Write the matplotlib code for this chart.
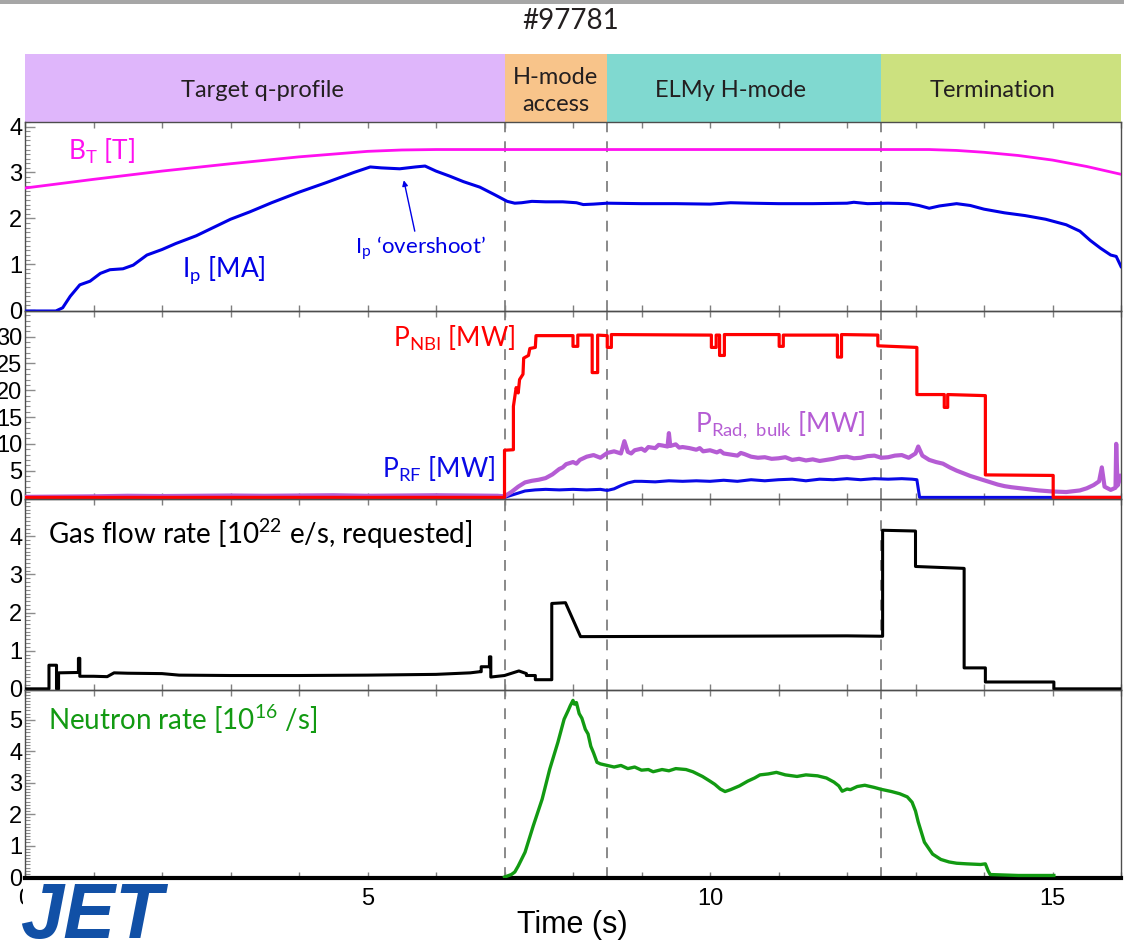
import matplotlib
matplotlib.use("Agg")
import matplotlib.pyplot as plt
from matplotlib.patches import Rectangle
from matplotlib.ticker import MultipleLocator, NullFormatter

# ---------------- data (JET pulse #97781) ----------------
shot_label = "#97781"

phase_names = ["Target q-profile", "H-mode\naccess", "ELMy H-mode", "Termination"]
phase_edges = [0.0, 7.0, 8.5, 12.5, 16.0]
phase_text_t = [3.46, 7.75, 10.3, 14.12]
phase_colors = ["#DFB6FB", "#F8C48A", "#80D9D0", "#CCE17F"]

t_bt = [0, 1, 2, 3, 4, 5, 5.5, 6, 8, 10, 12, 13.2, 13.6, 14.0, 14.5, 15.0, 15.5, 16.0]
bt = [2.66, 2.85, 3.03, 3.19, 3.34, 3.46, 3.49, 3.50, 3.50, 3.50, 3.50, 3.50, 3.48,
      3.44, 3.37, 3.27, 3.13, 2.96]

t_ip = [0, 0.45, 0.55, 0.66, 0.8, 0.95, 1.1, 1.24, 1.43, 1.58, 1.78, 2.0, 2.2, 2.5,
        2.75, 3.0, 3.28, 3.6, 4.0, 4.4, 4.8, 5.04, 5.2, 5.47, 5.7, 5.84, 6.0, 6.2,
        6.4, 6.64, 6.85, 7.04, 7.15, 7.25, 7.4, 7.6, 7.85, 8.05, 8.15, 8.3, 8.5,
        9.0, 9.5, 10.0, 10.3, 10.6, 11.0, 11.5, 12.0, 12.1, 12.3, 12.6, 12.9, 13.05,
        13.2, 13.35, 13.6, 13.8, 14.0, 14.3, 14.6, 14.9, 15.2, 15.4, 15.55, 15.7,
        15.85, 15.93, 16.0]
ip = [-0.02, -0.02, 0.05, 0.3, 0.55, 0.63, 0.8, 0.88, 0.9, 0.98, 1.2, 1.32, 1.45,
      1.62, 1.8, 1.98, 2.14, 2.34, 2.57, 2.78, 3.0, 3.12, 3.1, 3.08, 3.12, 3.14,
      3.03, 2.92, 2.8, 2.68, 2.52, 2.37, 2.33, 2.34, 2.37, 2.36, 2.36, 2.34, 2.30,
      2.31, 2.33, 2.32, 2.32, 2.31, 2.34, 2.33, 2.32, 2.32, 2.33, 2.35, 2.32, 2.33,
      2.32, 2.28, 2.22, 2.27, 2.32, 2.28, 2.2, 2.12, 2.06, 1.98, 1.86, 1.72, 1.52,
      1.35, 1.2, 1.17, 0.95]

t_nbi = [0, 7.0, 7.0, 7.13, 7.13, 7.17, 7.2, 7.22, 7.27, 7.28, 7.35, 7.37, 7.45,
         7.46, 8.0, 8.0, 8.07, 8.07, 8.28, 8.28, 8.36, 8.36, 8.5, 8.5, 8.56, 8.56,
         10.02, 10.02, 10.09, 10.09, 10.14, 10.14, 10.21, 10.21, 11.01, 11.01, 11.07,
         11.07, 11.86, 11.86, 11.92, 11.92, 12.45, 12.45, 13.02, 13.02, 13.42, 13.42,
         13.47, 13.47, 14.02, 14.02, 15.01, 15.01, 16.0]
p_nbi = [0, 0, 8.8, 8.9, 17.0, 20.5, 19.5, 22.0, 23.0, 26.0, 26.5, 27.8, 28.0,
         30.2, 30.2, 28.2, 28.2, 30.3, 30.3, 23.3, 23.3, 30.3, 30.2, 28.0, 28.0, 30.4,
         30.3, 28.0, 28.0, 30.3, 30.3, 26.5, 26.5, 30.4, 30.4, 28.2, 28.2, 30.3, 30.3,
         26.2, 26.2, 30.4, 30.3, 28.3, 28.0, 19.2, 19.2, 16.8, 16.8, 19.2, 19.0, 4.2,
         4.1, 0, 0]

t_rf = [0, 7.0, 7.1, 7.2, 7.3, 7.45, 7.6, 7.8, 8.0, 8.2, 8.4, 8.5, 8.6, 8.7, 8.8,
        8.9, 9.0, 9.2, 9.4, 9.6, 9.8, 10.0, 10.2, 10.4, 10.6, 10.8, 11.0, 11.2, 11.4,
        11.6, 11.8, 12.0, 12.2, 12.4, 12.6, 12.8, 12.95, 13.02, 13.06, 16.0]
p_rf = [0, 0, 0.4, 0.8, 1.2, 1.4, 1.5, 1.4, 1.5, 1.4, 1.5, 1.3, 1.6, 2.2, 2.7, 3.0,
        3.0, 2.9, 3.1, 3.0, 3.1, 3.0, 3.2, 3.0, 3.3, 3.1, 3.3, 3.4, 3.1, 3.4, 3.3,
        3.5, 3.3, 3.5, 3.4, 3.5, 3.4, 3.3, 0, 0]

t_rad = [0, 1.0, 1.5, 2.0, 2.5, 3.0, 3.5, 4.0, 4.5, 5.0, 5.5, 6.0, 6.5, 6.9, 7.0,
         7.1, 7.2, 7.3, 7.4, 7.5, 7.6, 7.7, 7.8, 7.85, 7.9, 8.0, 8.05, 8.1, 8.2, 8.3,
         8.4, 8.5, 8.6, 8.7, 8.75, 8.8, 8.85, 8.9, 9.0, 9.05, 9.1, 9.2, 9.25, 9.3,
         9.38, 9.4, 9.42, 9.5, 9.55, 9.6, 9.7, 9.8, 9.85, 9.9, 10.0, 10.1, 10.15, 10.2,
         10.3, 10.4, 10.45, 10.5, 10.6, 10.7, 10.8, 10.9, 11.0, 11.1, 11.2, 11.3,
         11.4, 11.5, 11.6, 11.7, 11.8, 11.9, 12.0, 12.1, 12.2, 12.3, 12.4, 12.5,
         12.6, 12.7, 12.8, 12.9, 13.0, 13.04, 13.1, 13.2, 13.3, 13.4, 13.5, 13.6,
         13.7, 13.8, 13.9, 14.0, 14.1, 14.2, 14.3, 14.4, 14.6, 14.8, 15.0, 15.2,
         15.4, 15.5, 15.6, 15.68, 15.72, 15.76, 15.85, 15.92, 15.93, 15.95, 16.0]
p_rad = [0.1, 0.2, 0.3, 0.25, 0.3, 0.35, 0.3, 0.35, 0.4, 0.3, 0.35, 0.4, 0.35, 0.3,
         0.2, 1.0, 2.0, 2.8, 3.1, 3.3, 3.6, 4.3, 5.3, 5.6, 6.2, 6.6, 6.3, 7.0, 7.6,
         7.9, 7.4, 8.3, 8.6, 8.2, 10.5, 8.5, 8.2, 8.8, 9.1, 8.7, 9.4, 9.2, 9.8, 9.7,
         9.5, 12.0, 9.6, 9.9, 9.3, 9.4, 9.2, 8.9, 9.2, 8.6, 8.8, 8.4, 8.7, 8.2, 8.0,
         7.8, 8.3, 8.1, 7.6, 7.4, 7.5, 7.2, 7.3, 7.5, 7.0, 7.2, 6.9, 7.1, 6.8, 7.0,
         7.2, 7.5, 7.6, 7.3, 7.4, 7.7, 7.8, 7.4, 7.5, 7.8, 7.9, 7.4, 8.2, 9.5, 7.8,
         7.0, 6.6, 6.3, 5.6, 5.0, 4.5, 4.0, 3.6, 3.2, 2.8, 2.4, 2.1, 1.9, 1.6, 1.3,
         1.1, 1.0, 1.3, 1.7, 2.3, 3.0, 5.6, 2.0, 1.4, 1.8, 10.0, 2.2, 4.0]

t_gas = [0, 0.35, 0.35, 0.46, 0.46, 0.49, 0.49, 0.78, 0.78, 0.8, 0.8, 1.0, 1.2,
         1.3, 1.5, 2.0, 2.25, 3.0, 4.0, 5.0, 6.0, 6.5, 6.64, 6.66, 6.66, 6.78, 6.78,
         6.8, 6.8, 7.0, 7.21, 7.32, 7.32, 7.45, 7.45, 7.69, 7.69, 7.89, 8.11, 12.0,
         12.52, 12.52, 13.0, 13.0, 13.71, 13.71, 14.02, 14.02, 15.02, 15.02, 16.0]
gas = [0, 0, 0.62, 0.62, 0.0, 0.0, 0.42, 0.43, 0.8, 0.8, 0.33, 0.33, 0.32, 0.42,
       0.41, 0.40, 0.36, 0.35, 0.35, 0.36, 0.38, 0.42, 0.45, 0.45, 0.58, 0.58, 0.84,
       0.84, 0.31, 0.35, 0.47, 0.40, 0.35, 0.35, 0.24, 0.24, 2.24, 2.26, 1.37, 1.39,
       1.38, 4.16, 4.14, 3.21, 3.16, 0.55, 0.55, 0.18, 0.18, 0.0, 0.0]

t_neut = [7.0, 7.1, 7.15, 7.2, 7.3, 7.42, 7.55, 7.66, 7.78, 7.87, 7.93, 7.96, 8.0,
          8.02, 8.05, 8.09, 8.13, 8.18, 8.22, 8.26, 8.3, 8.35, 8.4, 8.5, 8.6, 8.7,
          8.8, 8.9, 9.0, 9.1, 9.17, 9.3, 9.4, 9.5, 9.65, 9.75, 9.89, 10.0, 10.07,
          10.15, 10.22, 10.3, 10.43, 10.55, 10.65, 10.73, 10.85, 10.97, 11.1, 11.27,
          11.4, 11.57, 11.7, 11.81, 11.88, 11.93, 12.0, 12.05, 12.15, 12.26, 12.4,
          12.5, 12.65, 12.77, 12.88, 12.95, 13.0, 13.04, 13.13, 13.25, 13.37, 13.49,
          13.6, 13.75, 13.85, 13.95, 14.02, 14.06, 14.09, 14.5, 15.02]
neut = [0.0, 0.08, 0.16, 0.35, 0.79, 1.63, 2.48, 3.43, 4.29, 5.02, 5.3, 5.45, 5.62,
        5.5, 5.55, 5.2, 5.05, 4.7, 4.55, 4.16, 3.95, 3.65, 3.6, 3.55, 3.5, 3.55,
        3.45, 3.5, 3.4, 3.42, 3.35, 3.42, 3.38, 3.45, 3.42, 3.35, 3.2, 3.05, 2.95,
        2.8, 2.72, 2.78, 2.9, 3.05, 3.15, 3.25, 3.28, 3.33, 3.25, 3.2, 3.25, 3.22,
        3.15, 3.02, 2.9, 2.73, 2.8, 2.78, 2.88, 2.92, 2.85, 2.79, 2.72, 2.65, 2.55,
        2.38, 2.1, 1.75, 1.11, 0.73, 0.56, 0.48, 0.44, 0.42, 0.41, 0.4, 0.42, 0.2,
        0.08, 0.05, 0.05]

phase_lines = [7.0, 8.5, 12.5]

# ---------------- figure layout ----------------
W, H, DPI = 1124, 947, 100
fig = plt.figure(figsize=(W / DPI, H / DPI), dpi=DPI)
fig.patch.set_facecolor("white")

TXT = ["Lato", "DejaVu Sans"]
NUM = ["Liberation Sans", "DejaVu Sans"]
plt.rcParams["mathtext.fontset"] = "custom"
plt.rcParams["mathtext.rm"] = "Lato"

X0, X1 = 25, 1121


def box(top, bottom):
    return [X0 / W, 1 - bottom / H, (X1 - X0) / W, (bottom - top) / H]


# thin grey strip along the top edge
fig.add_artist(Rectangle((0, 1 - 4 / H), 1, 4 / H, transform=fig.transFigure,
                         facecolor="#A6A6A6", edgecolor="none"))
fig.text(571 / W, 1 - 21 / H, shot_label, ha="center", va="center",
         fontsize=20, family=TXT, color="#231F20")

# phase bar
axp = fig.add_axes(box(54, 122))
axp.set_xlim(0, 16)
axp.set_ylim(0, 1)
axp.axis("off")
for i, name in enumerate(phase_names):
    axp.axvspan(phase_edges[i], phase_edges[i + 1], color=phase_colors[i], lw=0)
    axp.text(phase_text_t[i], 0.46, name, ha="center", va="center", fontsize=17,
             family=TXT, color="#231F20", linespacing=1.35)

rows = [(122, 311), (311, 499), (499, 690), (690, 878)]
axes = [fig.add_axes(box(t, b)) for t, b in rows]
ylims = [(-0.02, 4.1), (-0.3, 34.8), (-0.03, 4.98), (-0.03, 5.95)]
ymaj = [1, 5, 1, 1]
ymin = [0.1, 1, 0.1, 0.1]

for i, ax in enumerate(axes):
    ax.set_xlim(0, 16)
    ax.set_ylim(*ylims[i])
    ax.set_facecolor("none")
    for s in ax.spines.values():
        s.set_color("#4d4d4d")
        s.set_linewidth(1.0)
    ax.yaxis.set_major_locator(MultipleLocator(ymaj[i]))
    ax.yaxis.set_minor_locator(MultipleLocator(ymin[i]))
    ax.xaxis.set_major_locator(MultipleLocator(5))
    ax.xaxis.set_minor_locator(MultipleLocator(1))
    ax.tick_params(axis="y", which="major", direction="in", length=7, width=1,
                   color="#8c8c8c", labelsize=17, pad=2, labelcolor="black")
    ax.tick_params(axis="y", which="minor", direction="in", length=3.5, width=0.8,
                   color="#8c8c8c")
    ax.tick_params(axis="x", which="both", direction="in", length=4, width=1,
                   color="#7f7f7f", top=True, bottom=True, labelsize=17, pad=7)
    for lab in ax.get_yticklabels() + ax.get_xticklabels():
        lab.set_family(NUM)
    if i < 3:
        ax.xaxis.set_major_formatter(NullFormatter())
    for t in phase_lines:
        ax.axvline(t, color="#808080", lw=1.3, ls=(0, (6, 5)), zorder=1)

ax1, ax2, ax3, ax4 = axes
FS = 19

# panel 1: toroidal field and plasma current
ax1.plot(t_bt, bt, color="#FF10F0", lw=2.0, zorder=3)
ax1.plot(t_ip, ip, color="#0000E6", lw=2.2, zorder=3)
ax1.text(0.63, 3.28, r"B$_\mathregular{T}$ [T]", color="#FF10F0", fontsize=FS,
         family=TXT, va="baseline")
ax1.text(2.29, 0.74, r"I$_\mathregular{p}$ [MA]", color="#0000E6", fontsize=FS,
         family=TXT, va="baseline")
ax1.text(4.82, 1.24, "I$_\\mathregular{p}$ \u2018overshoot\u2019", color="#0000E6",
         fontsize=16, family=TXT, va="baseline")
ax1.annotate("", xy=(5.53, 2.83), xytext=(5.69, 1.72),
             arrowprops=dict(arrowstyle="-|>", color="#0000E6", lw=1.0,
                             mutation_scale=8, shrinkA=0, shrinkB=0))

# panel 2: heating and radiated power
ax2.plot(t_rf, p_rf, color="#0A0AE6", lw=2.2, zorder=3)
ax2.plot(t_rad, p_rad, color="#B55CD4", lw=3.0, zorder=4)
ax2.plot(t_nbi, p_nbi, color="#FF0000", lw=2.3, zorder=5)
ax2.text(5.37, 28.2, r"P$_\mathregular{NBI}$ [MW]", color="#FF0000", fontsize=FS,
         family=TXT, va="baseline")
ax2.text(5.21, 3.8, r"P$_\mathregular{RF}$ [MW]", color="#0A0AE6", fontsize=FS,
         family=TXT, va="baseline")
ax2.text(9.78, 12.1, r"P$_\mathregular{Rad,\ bulk}$ [MW]", color="#B55CD4",
         fontsize=FS, family=TXT, va="baseline")

# panel 3: requested gas flow
ax3.plot(t_gas, gas, color="black", lw=2.2, zorder=3)
ax3.text(0.34, 3.79, r"Gas flow rate [10$^\mathregular{22}$ e/s, requested]",
         color="black", fontsize=FS + 1, family=TXT, va="baseline")

# panel 4: neutron rate
ax4.plot(t_neut, neut, color="#129A12", lw=2.4, zorder=3)
ax4.text(0.34, 4.67, r"Neutron rate [10$^\mathregular{16}$ /s]", color="#129A12",
         fontsize=FS + 1, family=TXT, va="baseline")
ax4.spines["bottom"].set_color("black")
ax4.spines["bottom"].set_linewidth(3)
ax4.set_xlabel("Time (s)", fontsize=22, family=NUM)
ax4.xaxis.set_label_coords((572 - X0) / (X1 - X0), -(925 - 878) / (878 - 690))
ax4.xaxis.label.set_va("center")

# JET logo
fig.add_artist(Rectangle((23 / W, 1 - 942 / H), 140 / W, 58 / H,
                         transform=fig.transFigure, facecolor="white",
                         edgecolor="none", zorder=5))
fig.text(20 / W, 1 - 938 / H, "JET", ha="left", va="baseline", fontsize=56,
         family=["Liberation Sans", "DejaVu Sans"], weight="bold", style="italic",
         color="#1150A6", zorder=6)

fig.savefig("out.png", dpi=DPI)
